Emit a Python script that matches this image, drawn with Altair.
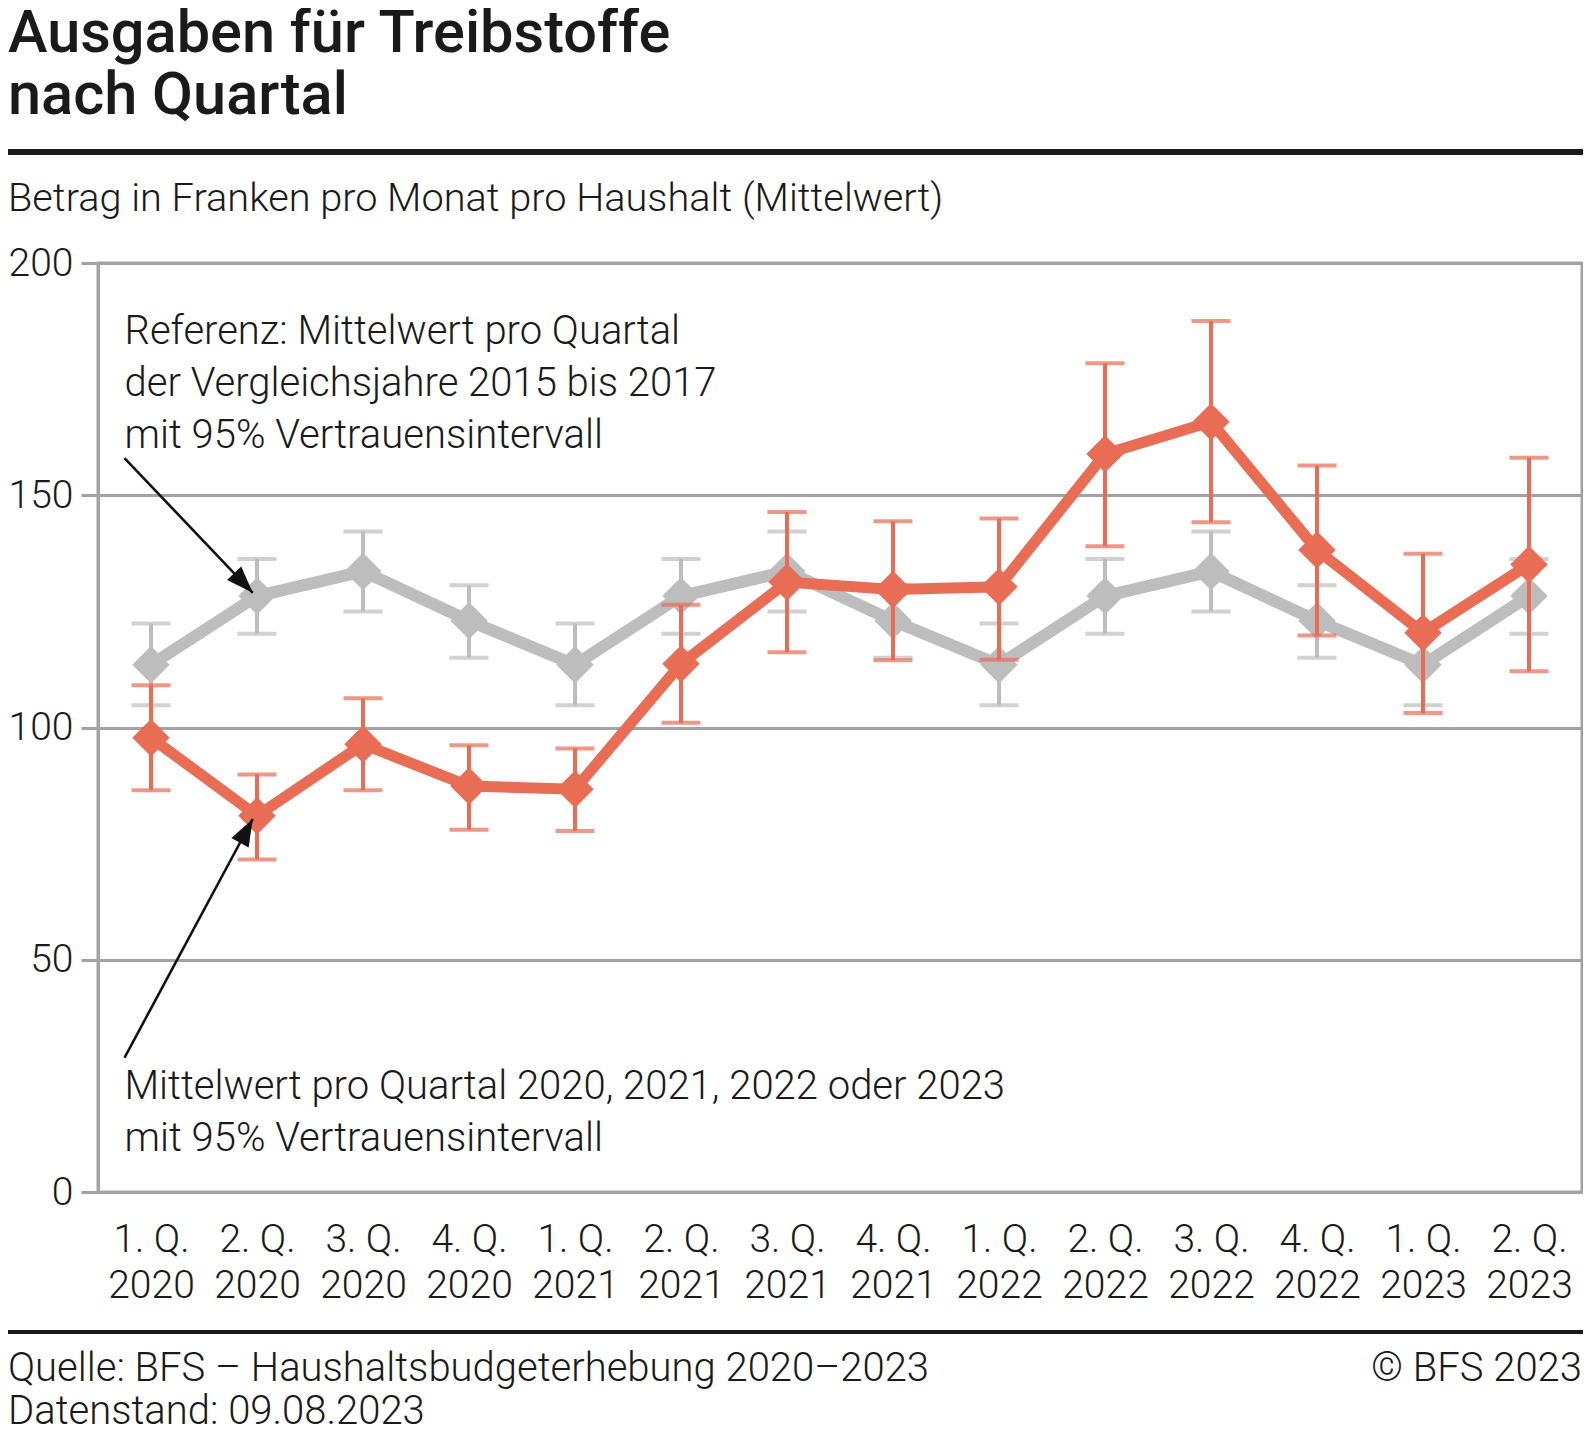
import math
import altair as alt
import pandas as pd

# ---------------- data ----------------
quarters = ["1. Q.", "2. Q.", "3. Q.", "4. Q.", "1. Q.", "2. Q.", "3. Q.", "4. Q.",
            "1. Q.", "2. Q.", "3. Q.", "4. Q.", "1. Q.", "2. Q."]
years = ["2020", "2020", "2020", "2020", "2021", "2021", "2021", "2021",
         "2022", "2022", "2022", "2022", "2023", "2023"]
quarter_no = [1, 2, 3, 4, 1, 2, 3, 4, 1, 2, 3, 4, 1, 2]

mean_values = [97.8, 81.0, 96.4, 87.4, 86.7, 113.7, 131.3, 129.7, 130.3, 158.9, 165.8, 138.2, 120.4, 135.1]
ci_low = [86.5, 71.6, 86.5, 78.0, 77.7, 101.0, 116.2, 114.5, 114.6, 139.0, 144.2, 119.8, 103.1, 112.1]
ci_high = [109.1, 89.9, 106.3, 96.2, 95.5, 126.4, 146.4, 144.4, 145.0, 178.4, 187.5, 156.4, 137.4, 158.1]

# reference 2015-2017, per quarter 1..4
ref_values = [113.5, 128.3, 133.6, 123.0]
ref_low = [104.8, 120.2, 125.0, 115.0]
ref_high = [122.4, 136.3, 142.2, 130.6]

title_lines = ["Ausgaben für Treibstoffe", "nach Quartal"]
subtitle = "Betrag in Franken pro Monat pro Haushalt (Mittelwert)"
ref_note = ["Referenz: Mittelwert pro Quartal", "der Vergleichsjahre 2015 bis 2017", "mit 95% Vertrauensintervall"]
cur_note = ["Mittelwert pro Quartal 2020, 2021, 2022 oder 2023", "mit 95% Vertrauensintervall"]
source_text = "Quelle: BFS – Haushaltsbudgeterhebung 2020–2023"
date_text = "Datenstand: 09.08.2023"
copy_text = "© BFS 2023"

# ---------------- tables ----------------
idx = list(range(len(quarters)))
cur = pd.DataFrame({"idx": idx, "mean": mean_values, "lo": ci_low, "hi": ci_high})
ref = pd.DataFrame({
    "idx": idx,
    "mean": [ref_values[q - 1] for q in quarter_no],
    "lo": [ref_low[q - 1] for q in quarter_no],
    "hi": [ref_high[q - 1] for q in quarter_no],
})

W, H = 1484, 929
XDOM = [-0.5, len(quarters) - 0.5]
YDOM = [0, 200]
px_x = W / (XDOM[1] - XDOM[0])
px_y = H / (YDOM[1] - YDOM[0])

GREY = "#BDBDBD"
RED = "#E96C55"
GRID = "#A3A3A3"
TXT = "#1A1A1A"
FONT = "Roboto"
FS = 40

xs = alt.Scale(domain=XDOM, nice=False, zero=False)
ys = alt.Scale(domain=YDOM, nice=False, zero=False)

labels_js = "[" + ",".join("['%s','%s']" % (q, y) for q, y in zip(quarters, years)) + "]"


def series_layers(df, color, line_w, first=False):
    base = alt.Chart(df)
    if first:
        xenc = alt.X("idx:Q", scale=xs, title=None,
                     axis=alt.Axis(values=idx, labelExpr=labels_js + "[datum.value]",
                                   grid=False, ticks=False, labelFlush=False, labelOverlap=False,
                                   labelPadding=47, labelLineHeight=46, labelBaseline="middle",
                                   domain=True))
        yenc_lo = alt.Y("lo:Q", scale=ys, title=None,
                        axis=alt.Axis(values=[0, 50, 100, 150, 200], grid=True, tickSize=17,
                                      labelPadding=8))
    else:
        xenc = alt.X("idx:Q", scale=xs, title=None)
        yenc_lo = alt.Y("lo:Q", scale=ys, title=None)
    whisk = base.mark_rule(color=color, strokeWidth=4).encode(x=xenc, y=yenc_lo, y2="hi:Q")
    cap_lo = base.mark_tick(color=color, orient="horizontal", size=39, thickness=4).encode(
        x=alt.X("idx:Q", scale=xs, title=None), y=alt.Y("lo:Q", scale=ys, title=None))
    cap_hi = base.mark_tick(color=color, orient="horizontal", size=39, thickness=4).encode(
        x=alt.X("idx:Q", scale=xs, title=None), y=alt.Y("hi:Q", scale=ys, title=None))
    line = base.mark_line(color=color, strokeWidth=line_w, strokeJoin="miter").encode(
        x=alt.X("idx:Q", scale=xs, title=None), y=alt.Y("mean:Q", scale=ys, title=None))
    pts = base.mark_point(shape="diamond", filled=True, opacity=1, color=color, size=1400).encode(
        x=alt.X("idx:Q", scale=xs, title=None), y=alt.Y("mean:Q", scale=ys, title=None))
    return [whisk, cap_lo, cap_hi, line, pts]


# ---------------- annotations (data coordinates) ----------------
arrows = pd.DataFrame({
    "x1": [-0.25, -0.25],
    "y1": [158.0, 28.9],
    "x2": [0.96, 0.96],
    "y2": [129.0, 80.3],
})
arrows["angle"] = [
    math.degrees(math.atan2((r.x2 - r.x1) * px_x, (r.y2 - r.y1) * px_y)) % 360
    for r in arrows.itertuples()
]

notes = pd.DataFrame({
    "x": [-0.25, -0.25],
    "y": [182.6, 20.0],
    "text": [ref_note, cur_note],
})

arrow_lines = alt.Chart(arrows).mark_rule(color="#111111", strokeWidth=2.6).encode(
    x=alt.X("x1:Q", scale=xs, title=None), y=alt.Y("y1:Q", scale=ys, title=None),
    x2="x2:Q", y2="y2:Q")
arrow_heads = alt.Chart(arrows).mark_point(
    shape="M0,0L-0.4,1.1L0.4,1.1Z", filled=True, opacity=1, color="#111111", size=2400
).encode(
    x=alt.X("x2:Q", scale=xs, title=None), y=alt.Y("y2:Q", scale=ys, title=None),
    angle=alt.Angle("angle:Q", scale=None))
note_text = alt.Chart(notes).mark_text(
    align="left", baseline="alphabetic", font=FONT, fontWeight=300, fontSize=FS,
    lineHeight=52, color=TXT
).encode(x=alt.X("x:Q", scale=xs, title=None), y=alt.Y("y:Q", scale=ys, title=None),
         text="text")

# ---------------- frame texts & rules (outside plot) ----------------
one = alt.Data(values=[{"a": 1}])
PL, PT = 90, 255


def ftext(txt, x, y, size=FS, weight=300, align="left"):
    return alt.Chart(one).mark_text(
        text=txt, align=align, baseline="alphabetic", font=FONT, fontWeight=weight,
        fontSize=size, color=TXT
    ).encode(x=alt.value(x), y=alt.value(y))


def frule(y, w):
    return alt.Chart(one).mark_rule(color="#1A1A1A", strokeWidth=w).encode(
        x=alt.value(-PL), x2=alt.value(W + 2), y=alt.value(y))


frame = [
    ftext(title_lines[0], -PL, -211, size=59.5, weight=500),
    ftext(title_lines[1], -PL, -149, size=59.5, weight=500),
    frule(-111, 6),
    ftext(subtitle, -PL, -52, size=39.7),
    frule(1069, 4),
    ftext(source_text, -PL, 1118),
    ftext(date_text, -PL, 1161),
    ftext(copy_text, W, 1118, align="right"),
]

layers = (series_layers(ref, GREY, 12, first=True) + series_layers(cur, RED, 11)
          + [arrow_lines, arrow_heads, note_text] + frame)

chart = alt.layer(*layers).properties(
    width=W, height=H,
    background="white",
    autosize=alt.AutoSizeParams(type="none"),
    padding={"left": PL, "top": PT, "right": 1, "bottom": 242},
).configure_view(
    stroke=GRID, strokeWidth=3
).configure_axis(
    labelFont=FONT, labelFontWeight=300, labelFontSize=39, labelColor=TXT,
    gridColor=GRID, gridWidth=3, domainColor=GRID, domainWidth=3,
    tickColor=GRID, tickWidth=3,
)

chart.save("out.html", embed_options={"renderer": "svg", "actions": False})
